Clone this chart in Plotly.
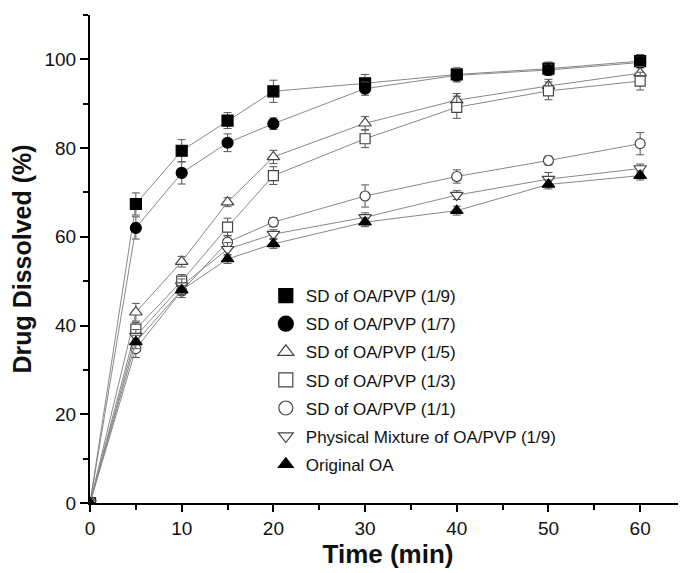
import plotly.graph_objects as go

time = [0, 5, 10, 15, 20, 30, 40, 50, 60]

names = [
    "SD of OA/PVP (1/9)",
    "SD of OA/PVP (1/7)",
    "SD of OA/PVP (1/5)",
    "SD of OA/PVP (1/3)",
    "SD of OA/PVP (1/1)",
    "Physical Mixture of OA/PVP (1/9)",
    "Original OA",
]

sd_19 = [0, 67.4, 79.4, 86.2, 92.8, 94.6, 96.6, 97.9, 99.6]
sd_17 = [0, 62.0, 74.4, 81.2, 85.5, 93.4, 96.4, 97.6, 99.3]
sd_15 = [0, 43.0, 54.4, 67.8, 78.0, 85.6, 90.8, 94.0, 96.9]
sd_13 = [0, 39.2, 50.0, 62.2, 73.8, 82.1, 89.2, 92.9, 95.1]
sd_11 = [0, 34.8, 47.8, 58.8, 63.3, 69.2, 73.6, 77.2, 81.0]
pm_19 = [0, 37.6, 49.0, 57.2, 60.6, 64.4, 69.4, 73.0, 75.4]
orig = [0, 36.3, 48.0, 55.0, 58.4, 63.3, 65.9, 71.8, 73.8]

err_19 = [0, 2.5, 2.5, 1.8, 2.5, 2.0, 1.5, 1.5, 1.5]
err_17 = [0, 2.5, 2.5, 2.0, 1.3, 1.5, 1.5, 1.2, 1.2]
err_15 = [0, 2.0, 1.2, 1.0, 1.5, 1.5, 1.5, 1.5, 1.5]
err_13 = [0, 1.5, 1.5, 2.0, 2.0, 2.0, 2.5, 2.0, 2.0]
err_11 = [0, 2.0, 1.5, 1.5, 1.0, 2.5, 1.5, 1.0, 2.5]
err_pm = [0, 1.5, 1.5, 1.5, 1.0, 1.0, 1.0, 1.5, 1.0]
err_oa = [0, 1.5, 1.0, 1.0, 1.0, 1.0, 1.0, 1.0, 1.0]

values = [sd_19, sd_17, sd_15, sd_13, sd_11, pm_19, orig]
errors = [err_19, err_17, err_15, err_13, err_11, err_pm, err_oa]
symbols = ["square", "circle", "triangle-up", "square", "circle", "triangle-down", "triangle-up"]
fills = ["black", "black", "white", "white", "white", "white", "black"]
edges = ["black", "black", "#444444", "#444444", "#444444", "#444444", "black"]
plot_sizes = [11, 11, 11, 10, 10, 11, 11]
legend_sizes = [14, 15, 14, 14, 14, 13, 13]

FONT = "Liberation Sans, Arial, sans-serif"

fig = go.Figure()

for i in range(len(names)):
    fig.add_trace(go.Scatter(
        x=time, y=values[i], mode="lines+markers", showlegend=False,
        line=dict(color="#888888", width=1),
        marker=dict(symbol=symbols[i], size=plot_sizes[i], color=fills[i],
                    line=dict(color=edges[i], width=1.2)),
        error_y=dict(type="data", array=errors[i], visible=True,
                     color="#555555", thickness=1, width=4),
    ))

for i in range(len(names)):
    fig.add_trace(go.Scatter(
        x=[None], y=[None], mode="markers", name=names[i],
        legendgroup=f"g{i}",
        marker=dict(symbol=symbols[i], size=legend_sizes[i], color=fills[i],
                    line=dict(color=edges[i], width=1.2)),
    ))

fig.update_layout(
    width=678, height=565,
    margin=dict(l=82, r=0, t=7, b=70),
    plot_bgcolor="white", paper_bgcolor="white",
    font=dict(family=FONT, color="#111111"),
    showlegend=True,
    legend=dict(x=0.295, y=0.461, xanchor="left", yanchor="top",
                bgcolor="rgba(0,0,0,0)", font=dict(size=17, color="#111111"),
                tracegroupgap=3, itemwidth=30),
    xaxis=dict(
        range=[0, 65], tickvals=[0, 10, 20, 30, 40, 50, 60],
        showline=True, linecolor="black", linewidth=2,
        ticks="outside", ticklen=7, tickwidth=1.5, tickcolor="black",
        minor=dict(dtick=5, ticks="outside", ticklen=5, tickwidth=1.5, tickcolor="black"),
        showgrid=False, zeroline=False, automargin=False,
        tickfont=dict(size=19),
        title=dict(text="<b>Time (min)</b>", font=dict(size=26), standoff=6),
    ),
    yaxis=dict(
        range=[0, 110], tickvals=[0, 20, 40, 60, 80, 100],
        showline=True, linecolor="black", linewidth=2,
        ticks="outside", ticklen=8, tickwidth=1.5, tickcolor="black",
        minor=dict(dtick=10, ticks="outside", ticklen=5, tickwidth=1.5, tickcolor="black"),
        showgrid=False, zeroline=False, automargin=False,
        tickfont=dict(size=19),
        title=dict(text="<b>Drug Dissolved (%)</b>", font=dict(size=25), standoff=6),
    ),
)

fig.write_html("out.html")
